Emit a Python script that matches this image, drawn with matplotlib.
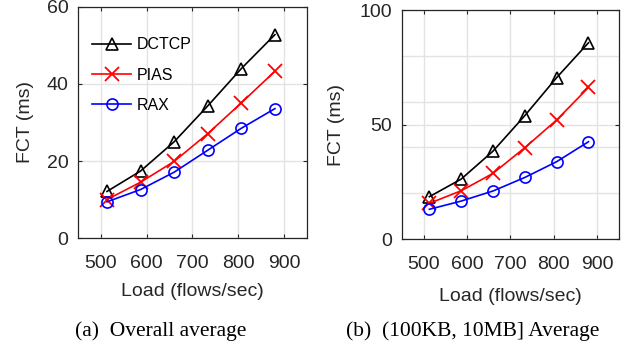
import numpy as np
import matplotlib.pyplot as plt
from matplotlib.ticker import FixedLocator

plt.rcParams['font.family'] = ['Liberation Sans', 'DejaVu Sans']

load = [513.3, 586.7, 660, 733.3, 806.7, 880]

# (a) overall average
dctcp_a = [12.1, 17.4, 25.0, 34.3, 44.0, 52.8]
pias_a = [10.0, 14.5, 19.9, 27.1, 35.1, 43.3]
rax_a = [9.4, 12.6, 17.1, 22.8, 28.5, 33.6]

# (b) (100KB, 10MB] average
dctcp_b = [18.5, 26.2, 38.4, 53.9, 70.5, 85.7]
pias_b = [15.6, 21.1, 28.7, 39.9, 52.0, 66.2]
rax_b = [13.0, 16.6, 21.0, 26.9, 33.8, 42.5]

xticks = [500, 600, 700, 800, 900]

fig = plt.figure(figsize=(6.26, 3.45), dpi=100)
ax1 = fig.add_axes([0.1246, 0.310, 0.3658, 0.670])
ax2 = fig.add_axes([0.642, 0.307, 0.3466, 0.664])

for ax, d, p, r in [(ax1, dctcp_a, pias_a, rax_a), (ax2, dctcp_b, pias_b, rax_b)]:
    ax.plot(load, d, '-^', color='k', mfc='none', ms=8.5, mew=1.2, lw=1.2, label='DCTCP')
    ax.plot(load, p, '-x', color='#ff0000', ms=9.5, mew=1.3, lw=1.2, label='PIAS')
    ax.plot(load, r, '-o', color='#0000ff', mfc='none', ms=8, mew=1.2, lw=1.2, label='RAX')
    ax.set_xlim(450, 950)
    ax.set_xticks(xticks)
    ax.tick_params(direction='in', top=True, right=True, labelsize=14, length=3, width=0.8,
                   colors='#262626')
    ax.tick_params(axis='x', pad=12)
    ax.tick_params(axis='y', pad=7)
    ax.tick_params(which='minor', length=0)
    for s in ax.spines.values():
        s.set_color('#262626')
        s.set_linewidth(0.9)
    ax.set_axisbelow(True)
    ax.set_xlabel('Load (flows/sec)', fontsize=14, color='#262626')
    ax.set_ylabel('FCT (ms)', fontsize=14, color='#262626')

ax1.set_ylim(0, 60)
ax1.set_yticks([0, 20, 40, 60])
ax1.grid(True, color='#e3e3e3', lw=1)
ax1.xaxis.set_label_coords(0.5, -0.195)
ax1.yaxis.set_label_coords(-0.19, 0.5)
ax1.legend(loc='upper left', bbox_to_anchor=(0.0, 0.93), frameon=False, fontsize=11.5,
           handlelength=2.4, handletextpad=0.35, labelspacing=0.95)

ax2.set_ylim(0, 100)
ax2.set_yticks([0, 50, 100])
ax2.yaxis.set_minor_locator(FixedLocator([20, 40, 60, 80]))
ax2.grid(True, which='both', color='#e3e3e3', lw=1)
ax2.xaxis.set_label_coords(0.5, -0.215)
ax2.yaxis.set_label_coords(-0.26, 0.5)

fig.text(0.257, 0.026, '(a)  Overall average', fontsize=15.5, ha='center',
         family=['Liberation Serif'])
fig.text(0.755, 0.026, '(b)  (100KB, 10MB] Average', fontsize=15.5, ha='center',
         family=['Liberation Serif'])

fig.savefig('out.png', dpi=100)
